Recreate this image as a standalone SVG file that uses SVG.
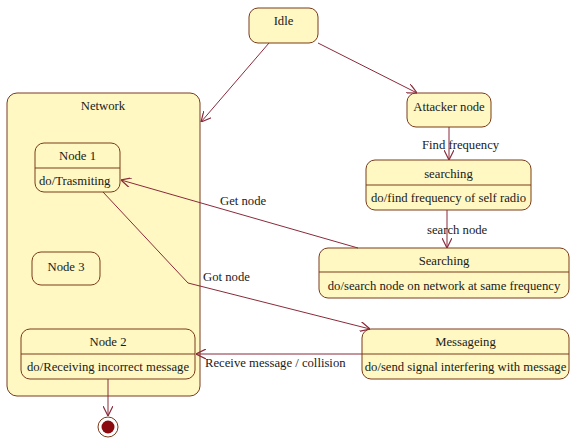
<svg xmlns="http://www.w3.org/2000/svg" width="571" height="439" viewBox="0 0 571 439">
<defs>
<marker id="arr" viewBox="0 0 10 10" refX="10" refY="5" markerWidth="10" markerHeight="10" markerUnits="userSpaceOnUse" orient="auto">
<path d="M0,0 L10,5 L0,10" fill="none" stroke="#8a2a3a" stroke-width="1.2"/>
</marker>
</defs>
<style>
.st{fill:#fff8c2;stroke:#7a3a1a;stroke-width:1}
.dv{stroke:#7a3a1a;stroke-width:1}
text{font-family:'Liberation Serif','Times New Roman','DejaVu Serif',serif;font-size:12.7px;fill:#1a1a1a}
.t{text-anchor:middle}
.c{fill:none;stroke:#8a2a3a;stroke-width:1;marker-end:url(#arr)}
</style>
<rect width="571" height="439" fill="#ffffff"/>
<g id="network"><rect class="st" x="7" y="93" width="193" height="303" rx="10"/><text class="t" x="103" y="110">Network</text></g>
<g id="idle"><rect class="st" x="249" y="8" width="69" height="35" rx="9"/><text class="t" x="283.5" y="25">Idle</text></g>
<g id="attacker"><rect class="st" x="407" y="93" width="84" height="34" rx="9"/><text class="t" x="449" y="111">Attacker node</text></g>
<g id="searching1"><rect class="st" x="366" y="160" width="165" height="50" rx="9"/><line class="dv" x1="366" y1="185" x2="531" y2="185"/><text class="t" x="448.5" y="178">searching</text><text class="t" x="448.5" y="202">do/find frequency of self radio</text></g>
<g id="searching2"><rect class="st" x="319" y="248" width="250" height="50" rx="9"/><line class="dv" x1="319" y1="272" x2="569" y2="272"/><text class="t" x="444" y="265">Searching</text><text class="t" x="444" y="290">do/search node on network at same frequency</text></g>
<g id="messageing"><rect class="st" x="362" y="329" width="207" height="50" rx="9"/><line class="dv" x1="362" y1="354" x2="569" y2="354"/><text class="t" x="465.5" y="346">Messageing</text><text class="t" x="465.5" y="371">do/send signal interfering with message</text></g>
<g id="node1"><rect class="st" x="35" y="143" width="85" height="49" rx="9"/><line class="dv" x1="35" y1="168" x2="120" y2="168"/><text class="t" x="77.5" y="160">Node 1</text><text x="39" y="185">do/Trasmiting</text></g>
<g id="node3"><rect class="st" x="32" y="252" width="68" height="33" rx="9"/><text class="t" x="66" y="271">Node 3</text></g>
<g id="node2"><rect class="st" x="21" y="329" width="174" height="50" rx="9"/><line class="dv" x1="21" y1="354" x2="195" y2="354"/><text class="t" x="108" y="346">Node 2</text><text class="t" x="108" y="371">do/Receiving incorrect message</text></g>
<g id="final"><circle cx="108" cy="427" r="10" fill="#ffffff" stroke="#7a3a1a" stroke-width="1"/><circle cx="108" cy="427" r="6.5" fill="#8b0a10"/></g>
<g id="connectors">
<line class="c" x1="269" y1="43" x2="201" y2="122"/>
<line class="c" x1="318" y1="43" x2="417" y2="93"/>
<line class="c" x1="449" y1="127" x2="449" y2="160"/>
<text x="422" y="149">Find frequency</text>
<line class="c" x1="447" y1="210" x2="447" y2="248"/>
<text x="427" y="234">search node</text>
<line class="c" x1="358" y1="248" x2="121" y2="180"/>
<text x="220" y="205">Get node</text>
<polyline class="c" points="103,192 188,283 370,329"/>
<text x="203" y="281">Got node</text>
<line class="c" x1="362" y1="354" x2="196" y2="354"/>
<text x="205" y="367">Receive message / collision</text>
<line class="c" x1="108" y1="379" x2="108" y2="416"/>
</g>
</svg>
